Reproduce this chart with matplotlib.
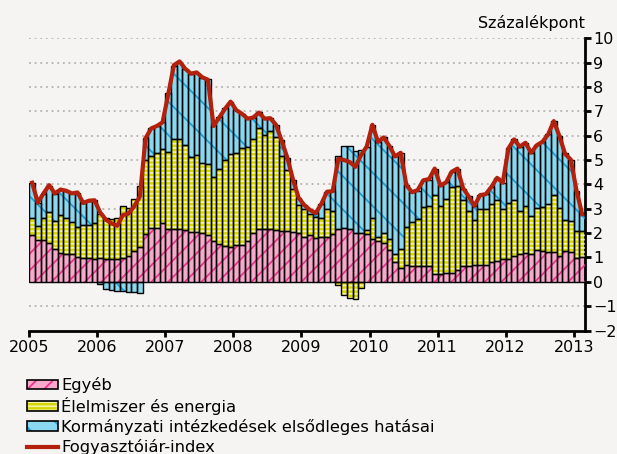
import numpy as np
import matplotlib
matplotlib.use("Agg")
import matplotlib.pyplot as plt
from matplotlib.patches import Patch
from matplotlib.lines import Line2D

# havi adatok, 2005 január - 2013 február (százalékpont)
egyeb = [1.91, 1.72, 1.72, 1.60, 1.33, 1.20, 1.13, 1.16, 1.00, 0.96, 0.96, 0.95,
         0.97, 0.95, 0.93, 0.92, 0.98, 1.05, 1.25, 1.45, 1.98, 2.22, 2.22, 2.40,
         2.15, 2.18, 2.18, 2.12, 2.04, 2.04, 2.01, 1.91, 1.68, 1.57, 1.46, 1.44,
         1.50, 1.50, 1.66, 2.00, 2.15, 2.15, 2.15, 2.12, 2.08, 2.08, 2.05, 2.00,
         1.84, 1.91, 1.78, 1.86, 1.86, 1.95, 2.16, 2.19, 2.17, 2.01, 2.02, 1.95,
         1.75, 1.68, 1.60, 1.30, 0.82, 0.55, 0.68, 0.66, 0.65, 0.65, 0.64, 0.32,
         0.34, 0.36, 0.38, 0.48, 0.64, 0.66, 0.68, 0.68, 0.70, 0.82, 0.87, 0.95,
         0.95, 1.05, 1.14, 1.19, 1.13, 1.30, 1.25, 1.22, 1.21, 1.08, 1.25, 1.21,
         0.96, 1.03]
elelmiszer = [0.73, 0.58, 0.91, 1.25, 1.15, 1.56, 1.49, 1.29, 1.27, 1.38, 1.39, 1.46,
              1.83, 1.69, 1.67, 1.72, 2.14, 2.00, 2.17, 2.50, 3.02, 2.94, 3.05, 3.04,
              3.19, 3.69, 3.69, 3.49, 3.09, 3.16, 2.88, 2.91, 2.63, 3.08, 3.54, 3.79,
              3.80, 3.98, 3.88, 3.85, 4.15, 3.87, 4.04, 3.81, 3.08, 2.53, 1.78, 1.15,
              1.15, 0.89, 0.90, 0.77, 1.11, 0.97, -0.12, -0.55, -0.67, -0.72, -0.24, 0.17,
              0.89, 0.17, 0.41, 0.47, 0.34, 0.78, 1.58, 1.80, 1.95, 2.41, 2.46, 3.25,
              2.76, 3.06, 3.50, 3.47, 2.70, 2.26, 1.87, 2.33, 2.27, 2.38, 2.51, 2.03,
              2.27, 2.30, 1.78, 1.92, 1.58, 1.73, 1.81, 1.96, 2.35, 1.97, 1.30, 1.29,
              1.13, 1.07]
kormanyzati = [1.43, 0.95, 0.99, 1.10, 1.14, 1.03, 1.11, 1.19, 1.39, 0.91, 0.96, 0.93,
               -0.08, -0.28, -0.33, -0.36, -0.37, -0.40, -0.43, -0.47, 0.90, 1.16, 1.12, 1.12,
               2.40, 3.00, 3.17, 3.12, 3.39, 3.38, 3.48, 3.49, 2.11, 2.12, 2.13, 2.14,
               1.75, 1.43, 1.17, 0.86, 0.67, 0.69, 0.53, 0.51, 0.65, 0.47, 0.36, 0.28,
               0.16, 0.14, 0.13, 0.58, 0.73, 0.79, 3.00, 3.38, 3.40, 3.37, 3.41, 3.43,
               3.81, 3.90, 3.92, 3.81, 3.99, 3.97, 1.71, 1.22, 1.15, 1.11, 1.10, 1.08,
               0.86, 0.67, 0.64, 0.70, 0.46, 0.60, 0.55, 0.55, 0.63, 0.70, 0.89, 1.09,
               2.26, 2.50, 2.63, 2.60, 2.59, 2.58, 2.69, 2.91, 3.05, 2.93, 2.72, 2.52,
               1.66, 0.71]
fogyasztoi_ar = [4.07, 3.25, 3.63, 3.97, 3.63, 3.79, 3.74, 3.63, 3.67, 3.24, 3.33, 3.35,
                 2.85, 2.55, 2.40, 2.30, 2.74, 2.80, 3.10, 3.50, 5.90, 6.30, 6.40, 6.55,
                 7.70, 8.90, 9.05, 8.75, 8.55, 8.60, 8.40, 8.30, 6.40, 6.75, 7.10, 7.40,
                 7.05, 6.90, 6.70, 6.75, 6.95, 6.70, 6.72, 6.45, 5.80, 5.10, 4.20, 3.45,
                 3.15, 2.95, 2.82, 3.20, 3.70, 3.72, 5.05, 5.00, 4.92, 4.72, 5.20, 5.55,
                 6.45, 5.75, 5.93, 5.58, 5.15, 5.30, 3.97, 3.68, 3.77, 4.17, 4.22, 4.65,
                 3.95, 4.08, 4.52, 4.65, 3.85, 3.50, 3.12, 3.56, 3.60, 3.90, 4.27, 4.07,
                 5.48, 5.85, 5.55, 5.71, 5.30, 5.61, 5.75, 6.05, 6.60, 5.98, 5.25, 5.02,
                 3.75, 2.78]
years = [2005, 2006, 2007, 2008, 2009, 2010, 2011, 2012, 2013]
labels = ["Egyéb", "Élelmiszer és energia",
          "Kormányzati intézkedések elsődleges hatásai", "Fogyasztóiár-index"]

plt.rcParams["hatch.linewidth"] = 1.3

bg = "#f5f4f2"
# (kitöltés, mintázat színe, mintázat)
styles = [("#f6a9cb", "#e8368f", "//"),
          ("#d6d600", "#f3f3a8", "----"),
          ("#8ad8ef", "#1b9fd6", "\\")]

fig = plt.figure(figsize=(6.17, 4.54), dpi=100, facecolor=bg)
ax = fig.add_axes([0.0475, 0.272, 0.9006, 0.6436], facecolor=bg)

n = len(egyeb)
x = np.arange(n) + 0.5
pos_base = np.zeros(n)
neg_base = np.zeros(n)
for vals, (fc, hc, hatch) in zip([egyeb, elelmiszer, kormanyzati], styles):
    v = np.array(vals)
    bottom = np.where(v >= 0, pos_base, neg_base)
    ax.bar(x, v, width=1.0, bottom=bottom, color=fc, linewidth=0, zorder=2)
    ax.bar(x, v, width=1.0, bottom=bottom, color="none", edgecolor=hc,
           hatch=hatch, linewidth=0, zorder=3)
    ax.bar(x, v, width=1.0, bottom=bottom, color="none", edgecolor="black",
           linewidth=1.0, zorder=4)
    pos_base = pos_base + np.where(v > 0, v, 0)
    neg_base = neg_base + np.where(v < 0, v, 0)

ax.plot(x, fogyasztoi_ar, color="#b3200c", linewidth=3.0, zorder=5,
        solid_joinstyle="round")

for yv in range(-1, 11):
    ax.axhline(yv, color="#a8a8a8", linewidth=1.1, linestyle=(0, (1.2, 2.5)), zorder=1)

ax.set_xlim(0, n)
ax.set_ylim(-2, 10)
ax.set_xticks(np.arange(len(years)) * 12)
ax.set_xticklabels([str(y) for y in years])
ax.set_yticks(range(-2, 11))

for s in ["left", "top"]:
    ax.spines[s].set_visible(False)
for s in ["right", "bottom"]:
    ax.spines[s].set_linewidth(2.0)
ax.yaxis.tick_right()
ax.tick_params(axis="y", direction="out", length=4, width=2, labelsize=11.5, pad=2)
ax.tick_params(axis="x", direction="out", length=4, width=2, labelsize=11.5, pad=3)

fig.text(585 / 617, 1 - 28.3 / 454, "Százalékpont", ha="right", va="baseline",
         fontsize=11.5)

handles = []
for fc, hc, hatch in styles:
    handles.append((Patch(facecolor=fc, edgecolor="none"),
                    Patch(facecolor="none", edgecolor=hc, hatch=hatch, linewidth=0),
                    Patch(facecolor="none", edgecolor="black", linewidth=1.2)))
handles.append(Line2D([], [], color="#b3200c", linewidth=3.0))
fig.legend(handles, labels, loc="upper left", bbox_to_anchor=(27 / 617, 1 - 377 / 454),
           frameon=False, fontsize=11.8, handlelength=1.9, handleheight=0.5,
           handletextpad=0.2, labelspacing=0.24, borderpad=0, borderaxespad=0)

fig.savefig("out.png", dpi=100, facecolor=bg)
